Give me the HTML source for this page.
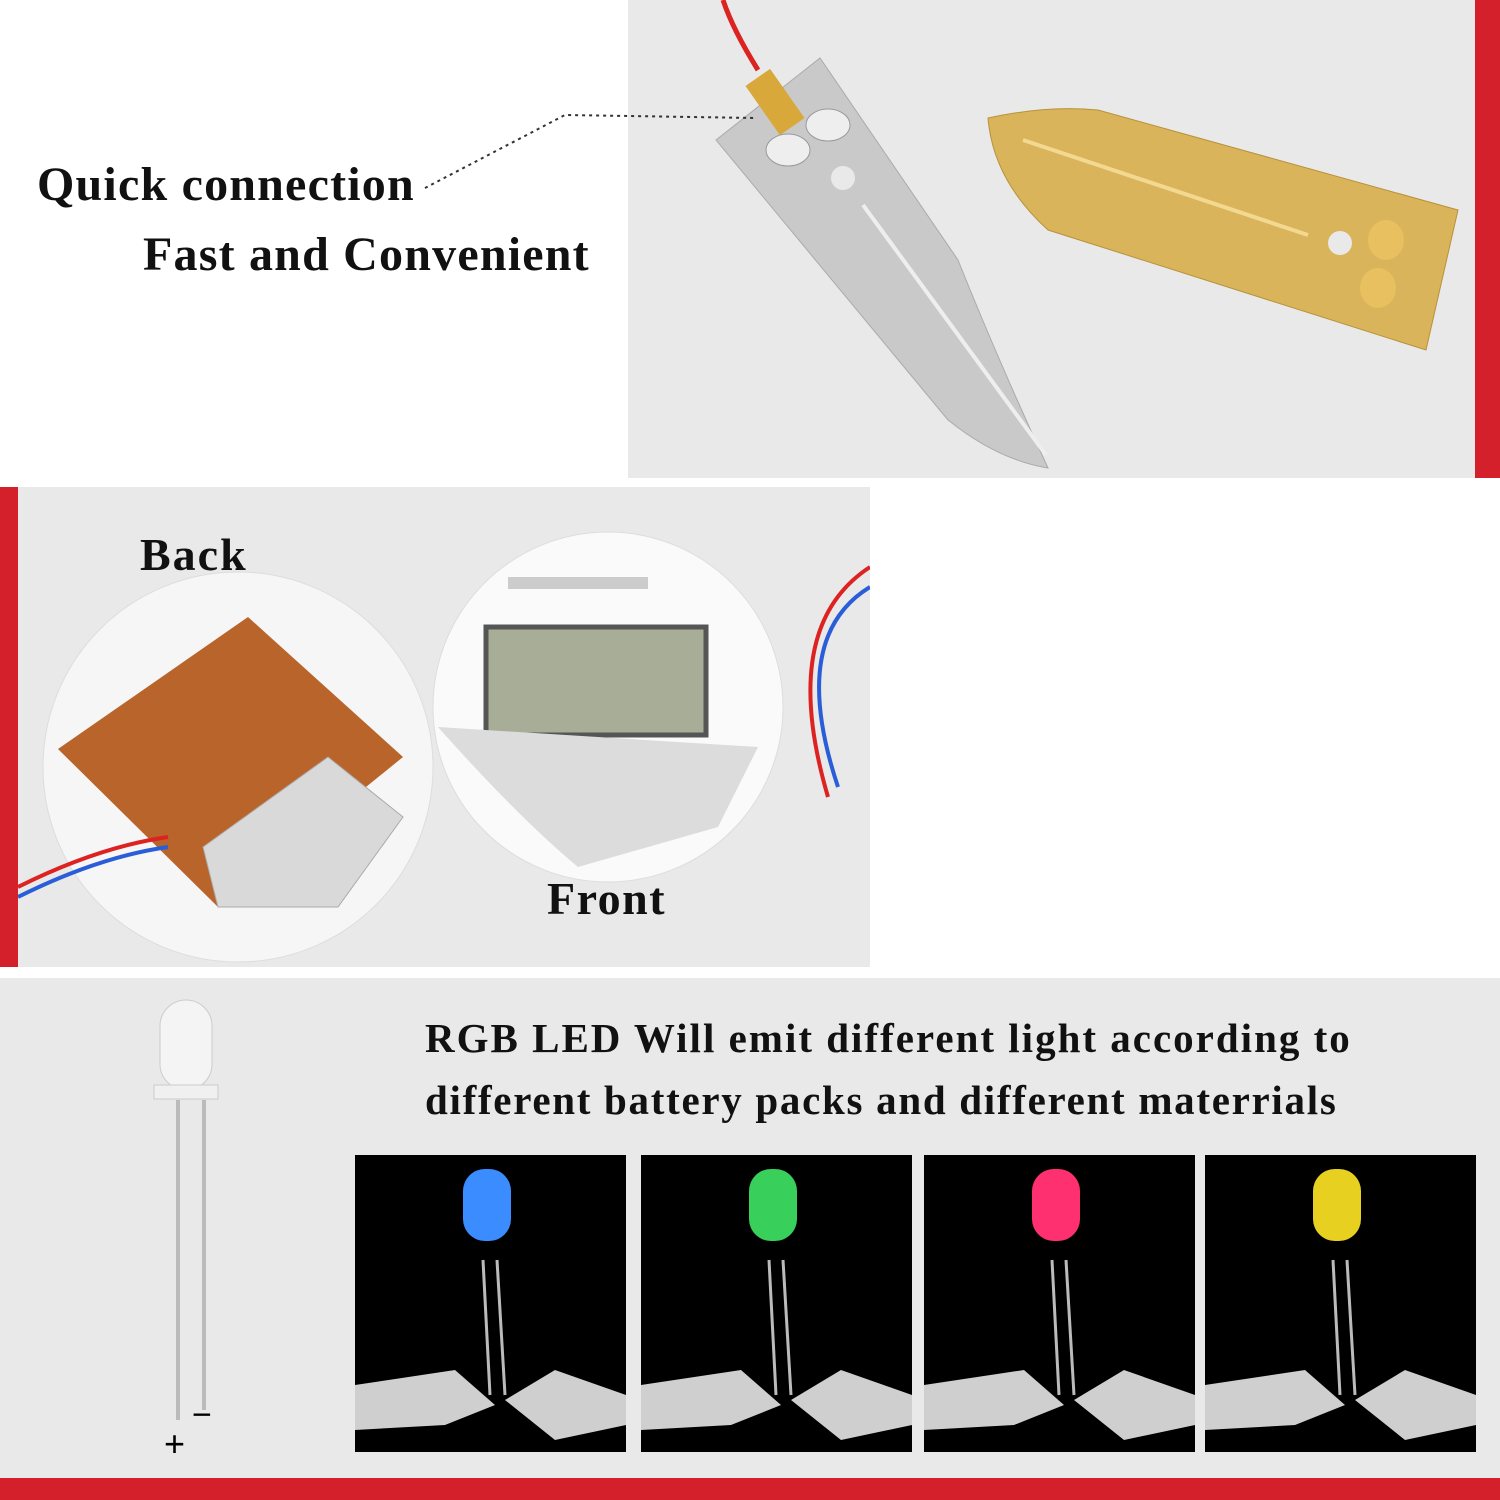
<!DOCTYPE html>
<html><head><meta charset="utf-8"><style>
html,body{margin:0;padding:0;background:#fff}
body{width:1500px;height:1500px;position:relative;overflow:hidden;font-family:"Liberation Serif",serif}
.a{position:absolute}
.t{position:absolute;color:#111;white-space:nowrap}
</style></head><body>
<div class="a" style="left:628px;top:0;width:847px;height:478px;background:#e9e9e9"></div>
<div class="a" style="left:1475px;top:0;width:25px;height:478px;background:#d3202a"></div>
<svg class="a" style="left:628px;top:0" width="847" height="478">
 <path d="M95 0 Q105 30 130 70" stroke="#d22" stroke-width="5" fill="none"/>
 <path d="M88 140 L192 58 L330 260 Q370 360 420 468 Q370 460 320 420 Z" fill="#c9c9c9" stroke="#aaa"/>
 <rect x="132" y="72" width="30" height="60" fill="#d8a83a" transform="rotate(-35 147 102)"/>
 <ellipse cx="160" cy="150" rx="22" ry="16" fill="#eee" stroke="#999"/>
 <ellipse cx="200" cy="125" rx="22" ry="16" fill="#eee" stroke="#999"/>
 <circle cx="215" cy="178" r="12" fill="#e9e9e9"/>
 <line x1="235" y1="205" x2="418" y2="455" stroke="#eee" stroke-width="4"/>
 <path d="M360 118 Q420 105 470 110 L830 210 L798 350 L420 230 Q365 180 360 118 Z" fill="#d9b45a" stroke="#b8923a"/>
 <line x1="395" y1="140" x2="680" y2="235" stroke="#f3d890" stroke-width="4"/>
 <circle cx="712" cy="243" r="12" fill="#e9e9e9"/>
 <ellipse cx="758" cy="240" rx="18" ry="20" fill="#e8c060"/>
 <ellipse cx="750" cy="288" rx="18" ry="20" fill="#e8c060"/>
</svg>
<svg class="a" style="left:0;top:0" width="760" height="220"><path d="M425 188 L565 115 L755 118" stroke="#333" stroke-width="2" stroke-dasharray="3 4" fill="none"/></svg>
<div class="t" style="left:37px;top:157px;font-size:48px;letter-spacing:1.2px;font-weight:600">Quick connection</div>
<div class="t" style="left:143px;top:227px;font-size:48px;letter-spacing:1.2px;font-weight:600">Fast and Convenient</div>

<div class="a" style="left:0;top:487px;width:18px;height:480px;background:#d3202a"></div>
<div class="a" style="left:18px;top:487px;width:852px;height:480px;background:#e9e9e9"></div>
<svg class="a" style="left:18px;top:487px" width="852" height="480">
 <circle cx="220" cy="280" r="195" fill="#f6f6f6" stroke="#ddd"/>
 <path d="M40 262 L230 130 L385 270 L200 420 Z" fill="#b8642a"/>
 <path d="M185 360 L310 270 L385 330 L320 420 L200 420 Z" fill="#d9d9d9" stroke="#aaa"/>
 <path d="M0 400 Q80 360 150 350" stroke="#d22" stroke-width="4" fill="none"/>
 <path d="M0 410 Q80 370 150 360" stroke="#2a5ed8" stroke-width="4" fill="none"/>
 <circle cx="590" cy="220" r="175" fill="#fafafa" stroke="#ddd"/>
 <rect x="468" y="140" width="220" height="108" fill="#a8ad98" stroke="#555" stroke-width="5"/>
 <rect x="490" y="90" width="140" height="12" fill="#ccc"/>
 <path d="M420 240 Q500 330 560 380 L700 340 L740 260 Z" fill="#dcdcdc"/>
 <path d="M852 80 Q760 140 810 310" stroke="#d22" stroke-width="4" fill="none"/>
 <path d="M852 100 Q770 150 820 300" stroke="#2a5ed8" stroke-width="4" fill="none"/>
</svg>
<div class="t" style="left:140px;top:528px;font-size:46px;letter-spacing:2px;font-weight:600">Back</div>
<div class="t" style="left:547px;top:872px;font-size:46px;letter-spacing:1.5px;font-weight:600">Front</div>

<div class="a" style="left:0;top:978px;width:1500px;height:500px;background:#e9e9e9"></div>
<div class="a" style="left:0;top:1478px;width:1500px;height:22px;background:#d3202a"></div>
<svg class="a" style="left:140px;top:990px" width="120" height="480">
 <rect x="20" y="10" width="52" height="90" rx="26" fill="#f4f4f4" stroke="#ccc"/>
 <rect x="14" y="95" width="64" height="14" fill="#f0f0f0" stroke="#ccc"/>
 <line x1="38" y1="110" x2="38" y2="430" stroke="#bbb" stroke-width="4"/>
 <line x1="64" y1="110" x2="64" y2="420" stroke="#bbb" stroke-width="4"/>
 <text x="52" y="436" font-size="34" font-family="Liberation Sans">−</text>
 <text x="24" y="466" font-size="36" font-family="Liberation Sans">+</text>
</svg>
<div class="t" style="left:425px;top:1014px;font-size:41px;font-weight:bold;letter-spacing:2px">RGB LED Will emit different light according to</div>
<div class="t" style="left:425px;top:1076px;font-size:41px;font-weight:bold;letter-spacing:1.7px">different battery packs and different materrials</div>

<svg class="a" style="left:355px;top:1155px" width="1121" height="297">
 <defs><g id="led">
  <rect width="271" height="297" fill="#000"/>
  <line x1="128" y1="105" x2="135" y2="240" stroke="#bbb" stroke-width="3"/>
  <line x1="142" y1="105" x2="150" y2="240" stroke="#bbb" stroke-width="3"/>
  <path d="M0 230 L100 215 L140 250 L90 270 L0 275 Z" fill="#cfcfcf"/>
  <path d="M150 245 L200 215 L271 240 L271 270 L200 285 Z" fill="#cfcfcf"/>
 </g></defs>
 <use href="#led" x="0"/><rect x="108" y="14" width="48" height="72" rx="22" fill="#3a8cff"/>
 <use href="#led" x="286"/><rect x="394" y="14" width="48" height="72" rx="22" fill="#38d05a"/>
 <use href="#led" x="569"/><rect x="677" y="14" width="48" height="72" rx="22" fill="#ff3070"/>
 <use href="#led" x="850"/><rect x="958" y="14" width="48" height="72" rx="22" fill="#e8d020"/>
</svg>
</body></html>
